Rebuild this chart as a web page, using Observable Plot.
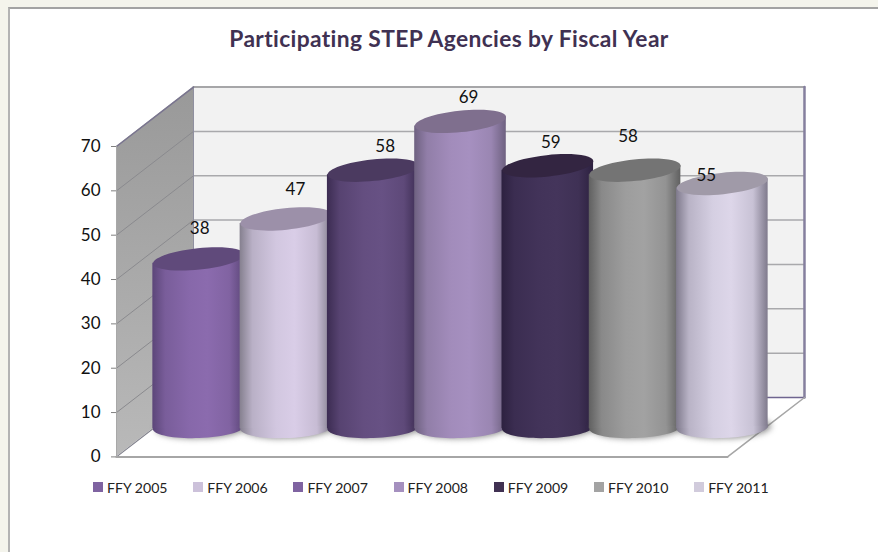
<!DOCTYPE html>
<html>
<head>
<meta charset="utf-8">
<script src="https://cdn.jsdelivr.net/npm/d3@7"></script>
<script src="https://cdn.jsdelivr.net/npm/@observablehq/plot@0.6"></script>
<style>
  html, body { margin: 0; padding: 0; background: #f4f4ec; }
  #page { position: relative; width: 878px; height: 552px; overflow: hidden; font-family: Lato, "Open Sans", sans-serif; }
  #panel { position: absolute; left: 8px; top: 7px; right: -4px; bottom: -4px; background: #fff; border-top: 2px solid #a3a3a3; border-left: 2px solid #b3b3b3; }
  #title { position: absolute; left: 0; width: 898px; top: 24px; text-align: center; font-size: 22.8px; font-weight: 700; color: #403152; letter-spacing: 0.36px; white-space: nowrap; }
  #chart { position: absolute; left: 0; top: 60px; }
  #chart svg { display: block; background: transparent; }
  #legend { position: absolute; left: 93px; top: 478px; display: flex; font-size: 14.1px; color: #222; }
  #legend .item { width: 100.2px; display: flex; align-items: center; white-space: nowrap; height: 18px; }
  #legend .sw { width: 10px; height: 10px; margin-right: 4px; flex: none; }
</style>
</head>
<body>
<div id="page">
  <div id="panel"></div>
  <div id="title"></div>
  <div id="chart"></div>
  <div id="legend"></div>
</div>
<script>
const chartTitle = "Participating STEP Agencies by Fiscal Year";
const years = ["FFY 2005", "FFY 2006", "FFY 2007", "FFY 2008", "FFY 2009", "FFY 2010", "FFY 2011"];
const agencies = [38, 47, 58, 69, 59, 58, 55];
const yTicks = [0, 10, 20, 30, 40, 50, 60, 70];

// palette
const swatchColors = ["#7f63a1", "#ccc1da", "#7f63a1", "#a590bf", "#403152", "#a3a3a3", "#d1cbdc"];
const capColors    = ["#604a7b", "#9c90a9", "#4b3a60", "#7f6f8e", "#332541", "#747474", "#a09aa8"];
const edgeDark     = ["#5c4679", "#85808f", "#3c2c52", "#6e6180", "#2d2140", "#606060", "#7f7a8c"];
const midLight     = ["#8b6bae", "#d9cde7", "#675184", "#a690c0", "#44355b", "#a2a2a2", "#ddd6e9"];
const shadowColor  = "#5e5e5e";

// layout of the 3D box, in scale units
const depthX = 0.882, depthY = 13.4;      // back wall offset
const cylX = 0.441, cylY = 6.65;          // cylinder plane offset
const halfW = 0.5246;                     // cylinder half width in slots
const rx = 45.8, ry = 10.7;               // cap ellipse, px
const tiltTop = 6, tiltBase = 2;          // ellipse tilt, degrees
const tiltY = 1.0, tiltYBase = 0.3;       // body slant, in value units
const yMax = 70;
const n = years.length;

// label nudges, px, one per cylinder
const labelNudge = [[1, -30], [9.5, -29], [12, -24], [8, -24], [3, -23], [-7, -34], [-16, -8]];

document.getElementById("title").textContent = chartTitle;

// ellipse symbols, tilted
const K = 0.5523;
const ellipse = tiltDeg => ({
  draw(ctx, size) {
    const a = Math.sqrt(size / Math.PI);
    const b = a * ry / rx;
    const t = -tiltDeg * Math.PI / 180, c = Math.cos(t), s = Math.sin(t);
    const P = (x, y) => [x * c - y * s, x * s + y * c];
    ctx.moveTo(...P(a, 0));
    ctx.bezierCurveTo(...P(a, K * b), ...P(K * a, b), ...P(0, b));
    ctx.bezierCurveTo(...P(-K * a, b), ...P(-a, K * b), ...P(-a, 0));
    ctx.bezierCurveTo(...P(-a, -K * b), ...P(-K * a, -b), ...P(0, -b));
    ctx.bezierCurveTo(...P(K * a, -b), ...P(a, -K * b), ...P(a, 0));
    ctx.closePath();
  }
});
const capTop = ellipse(tiltTop), capBase = ellipse(tiltBase);

const rows = years.map((year, i) => ({year, value: agencies[i], i, cx: i + 0.5 + cylX}));

function defs() {
  const d = d3.create("svg:defs");
  const wall = d.append("linearGradient").attr("id", "wall").attr("x1", 0).attr("x2", 0).attr("y1", 0).attr("y2", 1);
  wall.append("stop").attr("offset", 0).attr("stop-color", "#999999");
  wall.append("stop").attr("offset", 1).attr("stop-color", "#b9b9b9");
  rows.forEach(r => {
    const g = d.append("linearGradient").attr("id", "cyl" + r.i).attr("x1", 0).attr("x2", 1).attr("y1", 0).attr("y2", 0);
    const mix = d3.interpolateRgb(edgeDark[r.i], midLight[r.i]);
    [[0, 0], [0.14, 0.62], [0.4, 0.92], [0.6, 1], [0.84, 0.78], [1, 0]].forEach(([o, t]) =>
      g.append("stop").attr("offset", o).attr("stop-color", mix(t)));
  });
  return d.node();
}

const gridRows = yTicks.filter(v => v > 0);
const edge = (pts, stroke, strokeWidth) => Plot.line(pts, {x: "x", y: "y", stroke, strokeWidth});

const cylinderMarks = rows.flatMap(r => {
  const body = [
    {x: r.cx - halfW, y1: cylY - tiltYBase, y2: cylY + r.value - tiltY},
    {x: r.cx + halfW, y1: cylY + tiltYBase, y2: cylY + r.value + tiltY}
  ];
  return [
    Plot.dot([r], {x: d => d.cx, y: () => cylY, r: rx, symbol: capBase, fill: shadowColor, fillOpacity: 0.75, dx: 3, dy: 0}),
    Plot.dot([r], {x: d => d.cx, y: () => cylY, r: rx, symbol: capBase, fill: `url(#cyl${r.i})`}),
    Plot.areaY(body, {x: "x", y1: "y1", y2: "y2", fill: `url(#cyl${r.i})`}),
    Plot.dot([r], {x: d => d.cx, y: d => cylY + d.value, r: rx, symbol: capTop, fill: capColors[r.i]})
  ];
});

const labelMarks = rows.map(r => Plot.text([r], {
  x: d => d.cx, y: d => cylY + d.value, text: d => String(d.value),
  dx: labelNudge[r.i][0], dy: labelNudge[r.i][1], fontSize: 17, fill: "#111"
}));

const plot = Plot.plot({
  width: 878, height: 420,
  marginLeft: 116, marginRight: 151, marginTop: 86, marginBottom: 23.6,
  x: {type: "linear", domain: [0, n], axis: null},
  y: {domain: [0, yMax], axis: null},
  style: {fontFamily: "Lato, 'Open Sans', sans-serif", background: "transparent", overflow: "visible"},
  marks: [
    defs,
    // back wall
    Plot.rect([0], {x1: depthX, x2: n + depthX, y1: depthY, y2: yMax + depthY, fill: "#f2f2f2"}),
    // left wall
    Plot.areaY([{x: 0, y1: 0, y2: yMax}, {x: depthX, y1: depthY, y2: yMax + depthY}], {x: "x", y1: "y1", y2: "y2", fill: "url(#wall)"}),
    // gridlines
    Plot.ruleY(gridRows, {y: d => d + depthY, x1: depthX, x2: n + depthX, stroke: "#a9a9ac", strokeWidth: 1.5}),
    ...gridRows.slice(0, -1).map(v => edge([{x: 0, y: v}, {x: depthX, y: v + depthY}], "#8a8a8e", 1)),
    // box edges
    edge([{x: depthX, y: yMax + depthY}, {x: n + depthX, y: yMax + depthY}], "#a6a6a8", 2),
    edge([{x: n + depthX, y: depthY}, {x: n + depthX, y: yMax + depthY}], "#857f9e", 2.5),
    edge([{x: depthX, y: depthY}, {x: n + depthX, y: depthY}], "#6f6590", 1.5),
    edge([{x: depthX, y: depthY}, {x: depthX, y: yMax + depthY}], "#8f8f9f", 1),
    edge([{x: 0, y: yMax}, {x: depthX, y: yMax + depthY}], "#7a7590", 1.5),
    edge([{x: 0, y: 0}, {x: depthX, y: depthY}], "#7f7f8a", 1.2),
    edge([{x: 0, y: 0}, {x: 0, y: yMax}], "#a8a8a8", 1),
    edge([{x: 0, y: 0}, {x: n, y: 0}], "#a6a6a6", 2),
    edge([{x: n, y: 0}, {x: n + depthX, y: depthY}], "#a6a6a6", 1.5),
    // axis
    Plot.axisY(yTicks, {anchor: "left", label: null, tickSize: 5, tickPadding: 11, fontSize: 17, color: "#111", stroke: "#808080", fill: "#111"}),
    ...cylinderMarks,
    ...labelMarks
  ]
});
plot.querySelectorAll(`[fill="${shadowColor}"]`).forEach(el => { el.style.filter = "blur(3px)"; });
document.getElementById("chart").appendChild(plot);

const legend = d3.select("#legend");
years.forEach((y, i) => {
  const it = legend.append("div").attr("class", "item");
  it.append("span").attr("class", "sw").style("background", swatchColors[i]);
  it.append("span").text(y);
});
</script>
</body>
</html>
